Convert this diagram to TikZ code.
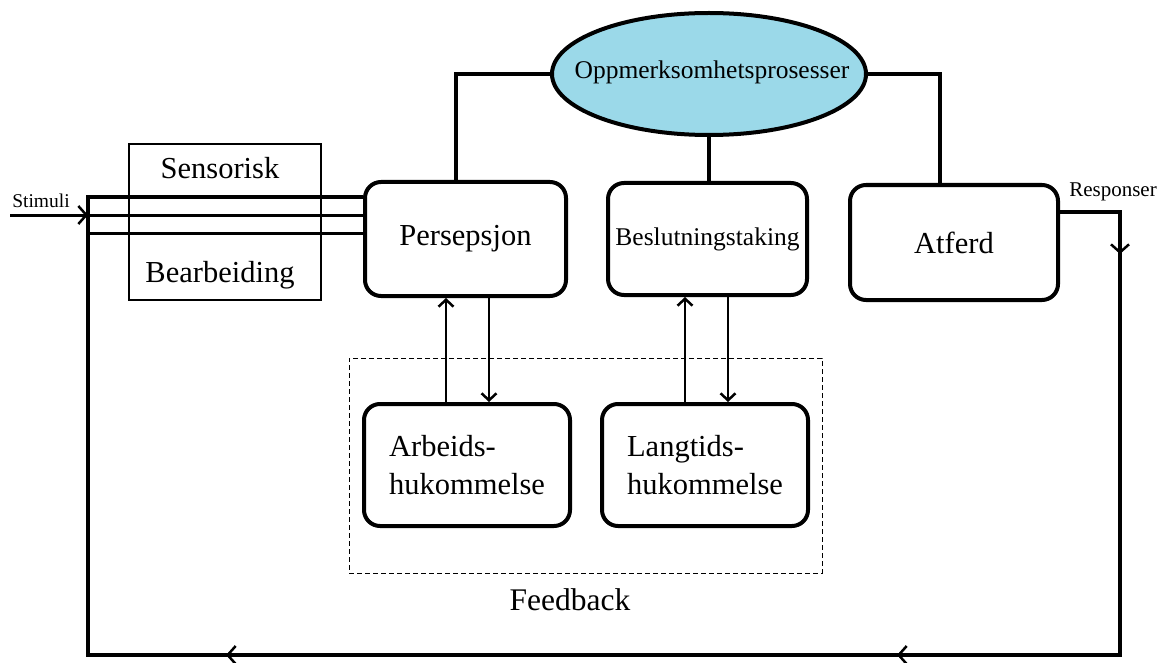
\documentclass[tikz,border=0pt]{standalone}
\usepackage{fontspec}
\setmainfont{Liberation Serif}
\usetikzlibrary{arrows.meta,shapes.geometric,decorations.markings}

\tikzset{feedtip/.tip={Straight Barb[length=8pt,width=18pt,line width=2.5pt]}}

\begin{document}
\begin{tikzpicture}[x=1pt,y=-1pt,
  rbox/.style={draw,line width=4pt,rounded corners=16pt,inner sep=0pt,fill=white,
    font=\fontsize{30.5}{38}\selectfont},
  plainbox/.style={draw,line width=2.5pt,inner sep=0pt},
  label/.style={inner sep=0pt},
  bigtxt/.style={label,font=\fontsize{30.5}{34}\selectfont},
  link/.style={line width=4pt},
  feed/.style={line width=3.5pt},
  inline/.style={line width=3pt},
  memarrow/.style={line width=2.5pt,-{Straight Barb[length=7pt,width=15pt]}},
]
\useasboundingbox (0,0) rectangle (1166,663);

% sensory stage
\node[plainbox,minimum width=192pt,minimum height=156pt] (sens) at (225,222) {};
\node[bigtxt] (senst) at (220,168) {Sensorisk};
\node[bigtxt] (bearb) at (220,275) {Bearbeiding};

% processing boxes
\node[rbox,minimum width=201pt,minimum height=114pt] (pers) at (465.5,239) {Persepsjon};
\node[rbox,minimum width=199pt,minimum height=112pt,font=\fontsize{25.5}{30}\selectfont] (besl) at (707.5,239) {Beslutningstaking};
\node[rbox,minimum width=208pt,minimum height=115pt] (atf) at (954,242.5) {Atferd};
\node[rbox,minimum width=206pt,minimum height=122pt,align=left] (arb) at (467,465) {Arbeids-\\hukommelse};
\node[rbox,minimum width=206pt,minimum height=122pt,align=left] (lang) at (705,465) {Langtids-\\hukommelse};

% attention
\node[ellipse,draw,line width=4pt,fill={rgb,255:red,155;green,217;blue,233},
  minimum width=314pt,minimum height=122pt,inner sep=0pt] (att) at (709,74) {};
\node[label,font=\fontsize{25.5}{30}\selectfont] (attt) at (712,72) {Oppmerksomhetsprosesser};

\draw[link] (att.west) -| ([xshift=-9.5pt]pers.north);
\draw[link] (att.east) -| ([xshift=-14pt]atf.north);
\draw[link] (att.south) -- (att.south |- besl.north);

% memory exchange
\coordinate (a1) at (446,0);
\coordinate (a2) at (489,0);
\coordinate (a3) at (685,0);
\coordinate (a4) at (728,0);
\draw[memarrow] (a1 |- arb.north) -- (a1 |- pers.south);
\draw[memarrow] (a2 |- pers.south) -- (a2 |- arb.north);
\draw[memarrow] (a3 |- lang.north) -- (a3 |- besl.south);
\draw[memarrow] (a4 |- besl.south) -- (a4 |- lang.north);

% feedback region
\node[draw,dash pattern=on 5pt off 3pt,line width=0.8pt,minimum width=473pt,minimum height=215pt,inner sep=0pt] (fb) at (585.5,465.5) {};
\node[label,font=\fontsize{31.5}{34}\selectfont] (fbt) at (570,600) {Feedback};

% response / feedback loop
\coordinate (r1) at (1120,212);
\coordinate (r2) at (1120,655);
\coordinate (r3) at (88,655);
\coordinate (r4) at (88,197);
\draw[feed,line join=miter,postaction={decorate},
  decoration={markings,
    mark=at position 102pt with {\arrow{feedtip}},
    mark=at position 726pt with {\arrow{feedtip}},
    mark=at position 1397pt with {\arrow{feedtip}}}]
  (r1 -| atf.east) -- (r1) -- (r2) -- (r3) -- (r4) -- (r4 -| pers.west);

% stimulus lines
\coordinate (s0) at (10,215);
\coordinate (s1) at (88,233);
\draw[inline,postaction={decorate},
  decoration={markings,mark=at position 78pt with {\arrow{feedtip}}}]
  (s0) -- (s0 -| pers.west);
\draw[inline] (s1) -- (s1 -| pers.west);

\node[label,font=\fontsize{19.5}{22}\selectfont] (stim) at (41,201) {Stimuli};
\node[label,font=\fontsize{21}{23}\selectfont] (resp) at (1113,192) {Responser};
\end{tikzpicture}
\end{document}
